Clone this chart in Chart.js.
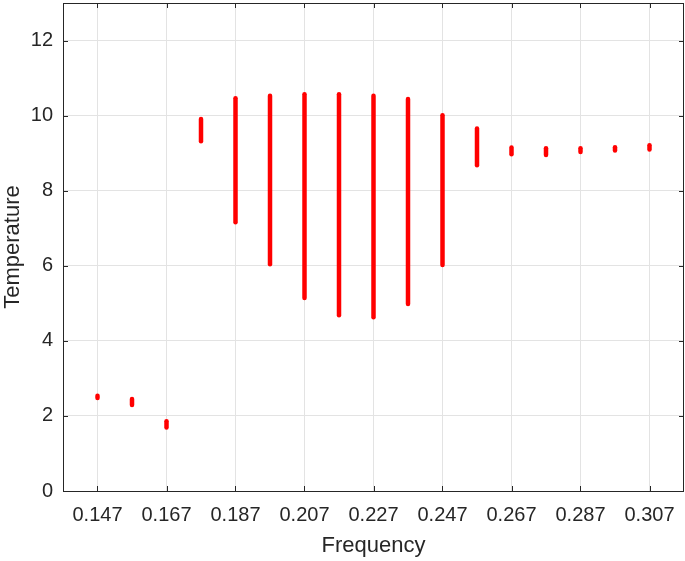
<!DOCTYPE html>
<html>
<head>
<meta charset="utf-8">
<script src="https://cdn.jsdelivr.net/npm/chart.js@4"></script>
<style>
  body { margin: 0; background: #fff; }
  #tempChart { display: block; }
</style>
</head>
<body>
<canvas id="tempChart" width="685" height="561"></canvas>
<script>
// frequency of each strip
const freqs = [0.147, 0.157, 0.167, 0.177, 0.187, 0.197, 0.207, 0.217, 0.227,
               0.237, 0.247, 0.257, 0.267, 0.277, 0.287, 0.297, 0.307];
// temperature spread at each frequency (low / high)
const tempLow  = [2.48, 2.29, 1.69, 9.32, 7.16, 6.04, 5.14, 4.68, 4.63,
                  4.98, 6.02, 8.68, 8.97, 8.95, 9.03, 9.07, 9.10];
const tempHigh = [2.54, 2.45, 1.86, 9.91, 10.46, 10.53, 10.57, 10.57, 10.53,
                  10.44, 10.01, 9.66, 9.15, 9.13, 9.13, 9.16, 9.21];
// tick labels
const xTicks = [0.147, 0.167, 0.187, 0.207, 0.227, 0.247, 0.267, 0.287, 0.307];
const yTicks = [0, 2, 4, 6, 8, 10, 12];

const axisColor = '#262626';
const gridColor = '#e3e3e3';

// box around the plot + inward ticks (matlab style)
const frameTicks = {
  id: 'frameTicks',
  afterDraw(chart) {
    const { ctx, chartArea: a, scales } = chart;
    const len = 5;
    ctx.save();
    ctx.strokeStyle = axisColor;
    ctx.lineWidth = 1;
    ctx.beginPath();
    scales.x.ticks.forEach(t => {
      const px = Math.round(scales.x.getPixelForValue(t.value)) + 0.5;
      ctx.moveTo(px, a.bottom); ctx.lineTo(px, a.bottom - len);
      ctx.moveTo(px, a.top); ctx.lineTo(px, a.top + len);
    });
    scales.y.ticks.forEach(t => {
      const py = Math.round(scales.y.getPixelForValue(t.value)) + 0.5;
      ctx.moveTo(a.left, py); ctx.lineTo(a.left + len, py);
      ctx.moveTo(a.right, py); ctx.lineTo(a.right - len, py);
    });
    ctx.stroke();
    ctx.strokeRect(Math.round(a.left) + 0.5, Math.round(a.top) + 0.5,
                   Math.round(a.right - a.left) - 1, Math.round(a.bottom - a.top));
    ctx.restore();
  }
};

// one short vertical line per frequency
const strips = freqs.map((f, i) => ({
  label: 'f' + f,
  data: [{ x: f, y: tempLow[i] }, { x: f, y: tempHigh[i] }],
  showLine: true,
  borderColor: '#ff0000',
  backgroundColor: '#ff0000',
  borderWidth: 4.5,
  borderCapStyle: 'round',
  pointRadius: 0
}));

const ctx1 = document.getElementById('tempChart');
const tempChart = new Chart(ctx1, {
  type: 'scatter',
  data: { datasets: strips },
  options: {
    responsive: false,
    animation: false,
    layout: { padding: { top: 3, right: 1, left: 0, bottom: 0 } },
    plugins: {
      legend: { display: false },
      tooltip: { enabled: false }
    },
    scales: {
      x: {
        type: 'linear',
        min: 0.137,
        max: 0.317,
        afterBuildTicks: s => { s.ticks = xTicks.map(v => ({ value: v })); },
        afterFit: s => { s.height = 70; s.paddingLeft = 0; s.paddingRight = 0; },
        ticks: {
          color: axisColor,
          padding: 12,
          font: { family: 'Liberation Sans', size: 20 },
          callback: v => v.toFixed(3)
        },
        grid: { color: gridColor, drawTicks: false },
        border: { display: false },
        title: {
          display: true,
          text: 'Frequency',
          color: axisColor,
          font: { family: 'Liberation Sans', size: 22 },
          padding: { top: 0, bottom: 2 }
        }
      },
      y: {
        min: 0,
        max: 13,
        afterBuildTicks: s => { s.ticks = yTicks.map(v => ({ value: v })); },
        afterFit: s => { s.width = 63; s.paddingTop = 0; s.paddingBottom = 0; },
        ticks: {
          color: axisColor,
          padding: 10,
          font: { family: 'Liberation Sans', size: 20 }
        },
        grid: { color: gridColor, drawTicks: false },
        border: { display: false },
        title: {
          display: true,
          text: 'Temperature',
          color: axisColor,
          font: { family: 'Liberation Sans', size: 22 },
          padding: { top: 0, bottom: 0 }
        }
      }
    }
  },
  plugins: [frameTicks]
});
</script>
</body>
</html>
